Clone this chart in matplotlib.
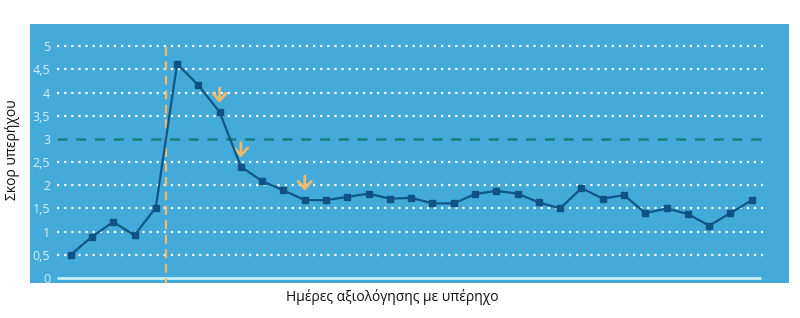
import numpy as np
import matplotlib.pyplot as plt

plt.rcParams['font.family'] = ['Open Sans', 'DejaVu Sans']

# scores per assessment day
scores = [0.50, 0.89, 1.21, 0.92, 1.52, 4.62, 4.16, 3.58, 2.40, 2.09, 1.89,
          1.68, 1.68, 1.75, 1.82, 1.71, 1.73, 1.61, 1.61, 1.81, 1.88, 1.82,
          1.63, 1.50, 1.94, 1.71, 1.79, 1.40, 1.50, 1.38, 1.13, 1.40, 1.68]
yticks = [0, 0.5, 1, 1.5, 2, 2.5, 3, 3.5, 4, 4.5, 5]
ytick_labels = ['0', '0,5', '1', '1,5', '2', '2,5', '3', '3,5', '4', '4,5', '5']
threshold = 3
event_x = 4.5               # start of treatment (between day 5 and 6)
arrow_days = [7, 8, 11]     # days marked with a down arrow

bg = '#43aad9'
x = np.arange(len(scores))

fig = plt.figure(figsize=(8, 3.18), dpi=100)
ax = fig.add_axes([30/800, 1 - 283/318, 759/800, 259/318])
ax.set_facecolor(bg)
ax.set_xlim(-1.91, 33.75)
ax.set_ylim(-0.108, 5.48)

gx0, gx1 = -0.64, 32.53
for t in yticks[1:]:
    if t == threshold:
        continue
    ax.hlines(t, gx0, gx1, colors='white', linestyles=(0, (1, 2.2)), lw=1.6)
ax.hlines(0, gx0, gx1 - 0.1, colors='#c8f0f8', lw=2)
ax.hlines(threshold, gx0, gx1, colors='#1c7c7c', linestyles=(0, (4, 3.5)), lw=1.8)
ax.vlines(event_x, -0.2, 5, colors='#f2b968', linestyles=(0, (4, 2.5)), lw=1.6)

ax.plot(x, scores, color='#0f5787', lw=1.6, marker='s', ms=5,
        markerfacecolor='#0e5383', markeredgecolor='#0e5383', zorder=4)

for d in arrow_days:
    y0 = scores[d]
    ax.annotate('', xy=(d, y0 + 0.2), xytext=(d, y0 + 0.52),
                arrowprops=dict(arrowstyle='->,head_length=0.45,head_width=0.4',
                                color='#f2b968', lw=2, mutation_scale=12,
                                shrinkA=0, shrinkB=0))

ax.set_yticks(yticks)
ax.set_yticklabels(ytick_labels, color='#d6eef9', fontsize=9)
ax.tick_params(axis='y', length=0, pad=-14.5)
ax.set_xticks([])
for s in ax.spines.values():
    s.set_visible(False)

fig.text(392/800, 1 - 297/318, 'Ημέρες αξιολόγησης με υπέρηχο', ha='center',
         va='center', fontsize=10, color='#111111')
fig.text(13/800, 1 - 150/318, 'Σκορ υπερήχου', ha='center', va='center',
         rotation=90, fontsize=10, color='#111111')

fig.savefig('out.png', dpi=100, facecolor='white')
